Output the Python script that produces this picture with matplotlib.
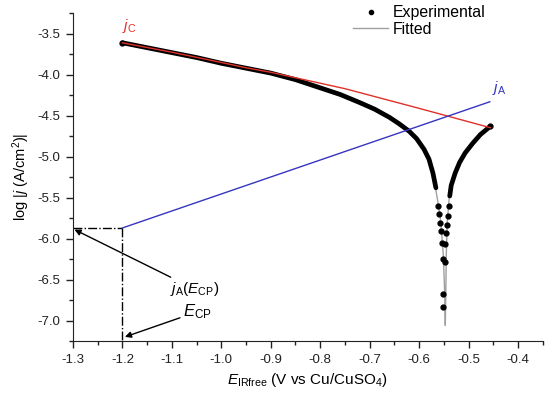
import numpy as np
import matplotlib
matplotlib.use("Agg")
import matplotlib.pyplot as plt
from matplotlib.lines import Line2D
from matplotlib.ticker import MultipleLocator

plt.rcParams['font.family'] = ['Liberation Sans', 'DejaVu Sans']
plt.rcParams['mathtext.fontset'] = 'custom'
plt.rcParams['mathtext.rm'] = 'Liberation Sans'
plt.rcParams['mathtext.it'] = 'Liberation Sans:italic'

# experimental polarisation curve (E in V vs Cu/CuSO4, log|j| in A/cm2)
E_exp = [-1.200, -1.150, -1.100, -1.050, -1.000, -0.950, -0.900, -0.850, -0.800,
         -0.760, -0.720, -0.690, -0.660, -0.640, -0.620, -0.605, -0.590, -0.580,
         -0.572, -0.566, -0.562, -0.559, -0.557, -0.555, -0.553, -0.552, -0.552,
         -0.551, -0.548, -0.547, -0.545, -0.544, -0.542, -0.540, -0.538, -0.535,
         -0.527, -0.518, -0.507, -0.492, -0.476, -0.456]
logj_exp = [-3.61, -3.67, -3.73, -3.79, -3.86, -3.92, -3.98, -4.06, -4.16,
            -4.24, -4.34, -4.42, -4.52, -4.60, -4.69, -4.78, -4.91, -5.03,
            -5.20, -5.38, -5.60, -5.705, -5.81, -5.91, -6.05, -6.25, -6.68,
            -6.84, -6.29, -6.07, -5.93, -5.83, -5.725, -5.60, -5.48, -5.35,
            -5.20, -5.07, -4.956, -4.84, -4.73, -4.63]

# fitted curve
E_fit = [-1.200, -1.100, -1.000, -0.900, -0.800, -0.720, -0.660, -0.620, -0.590,
         -0.572, -0.562, -0.556, -0.551, -0.548, -0.547, -0.546, -0.545, -0.543,
         -0.539, -0.527, -0.507, -0.476, -0.456]
logj_fit = [-3.61, -3.73, -3.86, -3.98, -4.16, -4.34, -4.52, -4.69, -4.91,
            -5.20, -5.55, -5.80, -6.20, -6.70, -7.06, -6.70, -6.20, -5.80,
            -5.50, -5.20, -4.956, -4.73, -4.63]

# cathodic partial current jC
E_jc = [-1.20, -1.10, -1.00, -0.95, -0.90, -0.75, -0.60, -0.456]
logj_jc = [-3.61, -3.725, -3.85, -3.915, -3.97, -4.17, -4.41, -4.646]

# anodic partial current jA
E_ja = [-1.20, -0.457]
logj_ja = [-5.87, -4.33]

E_cp = -1.2
ja_cp = -5.87

fig = plt.figure(figsize=(5.5, 3.98), dpi=100)
ax = fig.add_axes([0.1327, 0.1432, 0.854, 0.8234])

ax.plot(E_fit, logj_fit, color='#a0a0a0', lw=1.0, zorder=2)
E_arr = np.array(E_exp)
j_arr = np.array(logj_exp)
dense = j_arr > -5.55
ax.plot(E_arr, np.where(dense, j_arr, np.nan), color='k', lw=3.4,
        solid_capstyle='round', zorder=3)
ax.plot(E_arr[~dense], j_arr[~dense], 'o', color='k', ms=3.5, zorder=3)
ax.plot(E_arr[[0, -1]], j_arr[[0, -1]], 'o', color='k', ms=3.5, zorder=3)
ax.plot(E_jc, logj_jc, color='#e0302a', lw=1.0, zorder=4)
ax.plot(E_ja, logj_ja, color='#3535c0', lw=1.0, zorder=4)

ax.plot([-1.3, E_cp], [ja_cp, ja_cp], color='k', lw=1.0, ls='-.')
ax.plot([E_cp, E_cp], [ja_cp, -7.25], color='k', lw=1.0, ls='-.')

ax.text(-1.2, -3.40, r'$j_{\mathrm{C}}$', color='#e0302a', fontsize=11, va='center', ha='left')
ax.text(-0.452, -4.16, r'$j_{\mathrm{A}}$', color='#3535c0', fontsize=11, va='center', ha='left')

arrow = dict(arrowstyle='-|>', color='k', lw=1.0, mutation_scale=9, shrinkA=0, shrinkB=0)
ax.annotate(r'$j_{\mathrm{A}}(E_{\mathrm{CP}})$', xy=(-1.297, -5.89), xytext=(-1.104, -6.615),
            fontsize=11, va='center', ha='left', arrowprops=arrow)
ax.annotate(r'$E_{\mathrm{CP}}$', xy=(-1.195, -7.2), xytext=(-1.078, -6.894),
            fontsize=12, va='center', ha='left', arrowprops=arrow)

ax.set_xlim(-1.3, -0.35)
ax.set_ylim(-7.25, -3.25)
ax.xaxis.set_minor_locator(MultipleLocator(0.05))
ax.yaxis.set_minor_locator(MultipleLocator(0.25))
ax.set_xticks(np.arange(-1.3, -0.35, 0.1))
ax.set_xticklabels(['%.1f' % v for v in np.arange(-1.3, -0.35, 0.1)])
ax.set_yticks(np.arange(-7.0, -3.4, 0.5))
ax.set_yticklabels(['%.1f' % v for v in np.arange(-7.0, -3.4, 0.5)])
ax.tick_params(which='major', direction='out', length=5, width=1, labelsize=9.5, pad=4, colors='#222222')
ax.tick_params(which='minor', direction='out', length=3, width=1, colors='#222222')
for s in ['top', 'right']:
    ax.spines[s].set_visible(False)
for s in ['left', 'bottom']:
    ax.spines[s].set_color('#222222')

ax.set_xlabel(r'$E_{\mathrm{IRfree}}$ (V vs Cu/CuSO$_4$)', fontsize=11)
ax.set_ylabel(r'log |$j$ (A/cm$^2$)|', fontsize=10.5)

handles = [Line2D([], [], color='k', marker='o', ms=3, ls='none'),
           Line2D([], [], color='#a0a0a0', lw=1)]
ax.legend(handles, ['Experimental', 'Fitted'], loc='upper left', frameon=False,
          bbox_to_anchor=(350 / 550, 1 - 2 / 398), bbox_transform=fig.transFigure,
          fontsize=11.4, handlelength=2.2, borderaxespad=0, borderpad=0.2,
          labelspacing=0.1, handletextpad=0.3)

fig.savefig('out.png', dpi=100)
